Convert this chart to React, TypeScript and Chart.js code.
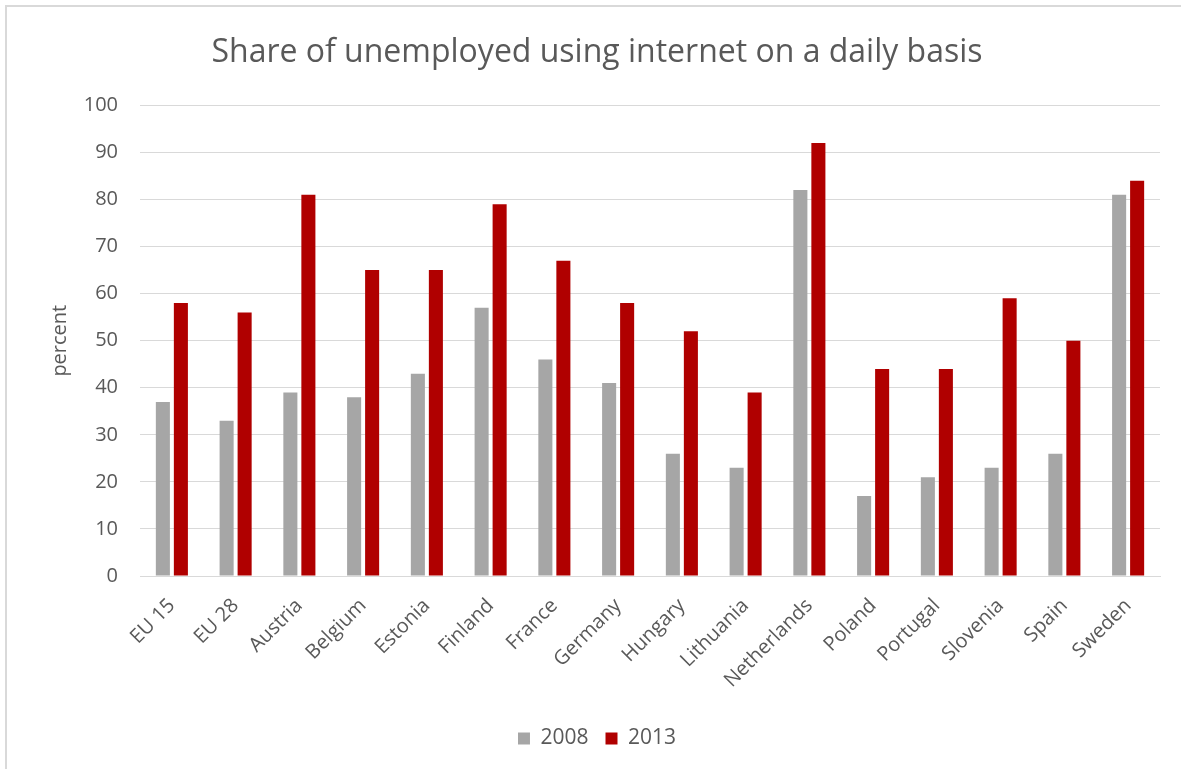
import React, { useEffect, useRef } from "react";
import { Chart, registerables } from "chart.js";

Chart.register(...registerables);

const categories = [
  "EU 15", "EU 28", "Austria", "Belgium", "Estonia", "Finland", "France", "Germany",
  "Hungary", "Lithuania", "Netherlands", "Poland", "Portugal", "Slovenia", "Spain", "Sweden",
];
const values2008 = [37, 33, 39, 38, 43, 57, 46, 41, 26, 23, 82, 17, 21, 23, 26, 81];
const values2013 = [58, 56, 81, 65, 65, 79, 67, 58, 52, 39, 92, 44, 44, 59, 50, 84];
const seriesLabels = ["2008", "2013"];
const titleText = "Share of unemployed using internet on a daily basis";
const yAxisLabel = "percent";

const FONT = "'Open Sans', 'DejaVu Sans', sans-serif";
const TEXT = "#595959";
const GRID = "#d9d9d9";

export default function App() {
  const ref = useRef<HTMLCanvasElement | null>(null);

  useEffect(() => {
    if (!ref.current) return;
    const chart = new Chart(ref.current, {
      type: "bar",
      data: {
        labels: categories,
        datasets: [
          {
            label: seriesLabels[0],
            data: values2008,
            backgroundColor: "#a6a6a6",
            categoryPercentage: 0.565,
            barPercentage: 0.78,
          },
          {
            label: seriesLabels[1],
            data: values2013,
            backgroundColor: "#b00000",
            categoryPercentage: 0.565,
            barPercentage: 0.78,
          },
        ],
      },
      options: {
        responsive: false,
        animation: false,
        layout: { padding: { left: 34, right: 21, top: 0, bottom: 10 } },
        plugins: {
          title: {
            display: true,
            text: titleText,
            color: TEXT,
            font: { family: FONT, size: 32, weight: "normal" },
            padding: { top: 34, bottom: 33 },
          },
          legend: {
            position: "bottom",
            labels: {
              color: TEXT,
              font: { family: FONT, size: 21 },
              boxWidth: 12,
              boxHeight: 12,
              padding: 17,
            },
          },
          tooltip: { enabled: false },
        },
        scales: {
          x: {
            grid: { display: false, drawTicks: false },
            border: { display: true, color: GRID, width: 1 },
            ticks: {
              color: TEXT,
              font: { family: FONT, size: 20 },
              maxRotation: 45,
              minRotation: 45,
              padding: 18,
              autoSkip: false,
            },
            afterFit: (scale: any) => {
              scale.height = 135;
            },
          },
          y: {
            min: 0,
            max: 100,
            ticks: {
              stepSize: 10,
              color: TEXT,
              font: { family: FONT, size: 20 },
              padding: 22,
            },
            grid: { color: GRID, lineWidth: 1, drawTicks: false },
            border: { display: false },
            title: {
              display: true,
              text: yAxisLabel,
              color: TEXT,
              font: { family: FONT, size: 20 },
              padding: { top: 14, bottom: 0 },
            },
            afterFit: (scale: any) => {
              scale.width = 106;
            },
          },
        },
      },
    });
    return () => chart.destroy();
  }, []);

  return (
    <div
      style={{
        position: "absolute",
        left: 0,
        top: 0,
        width: 1181,
        height: 769,
        background: "#ffffff",
      }}
    >
      <div
        style={{
          position: "absolute",
          left: 5,
          top: 5,
          width: 1176,
          height: 764,
          borderTop: "2px solid #d9d9d9",
          borderLeft: "2px solid #d9d9d9",
          boxSizing: "border-box",
        }}
      />
      <canvas
        ref={ref}
        width={1181}
        height={769}
        style={{ position: "absolute", left: 0, top: 0, width: 1181, height: 769 }}
      />
    </div>
  );
}
